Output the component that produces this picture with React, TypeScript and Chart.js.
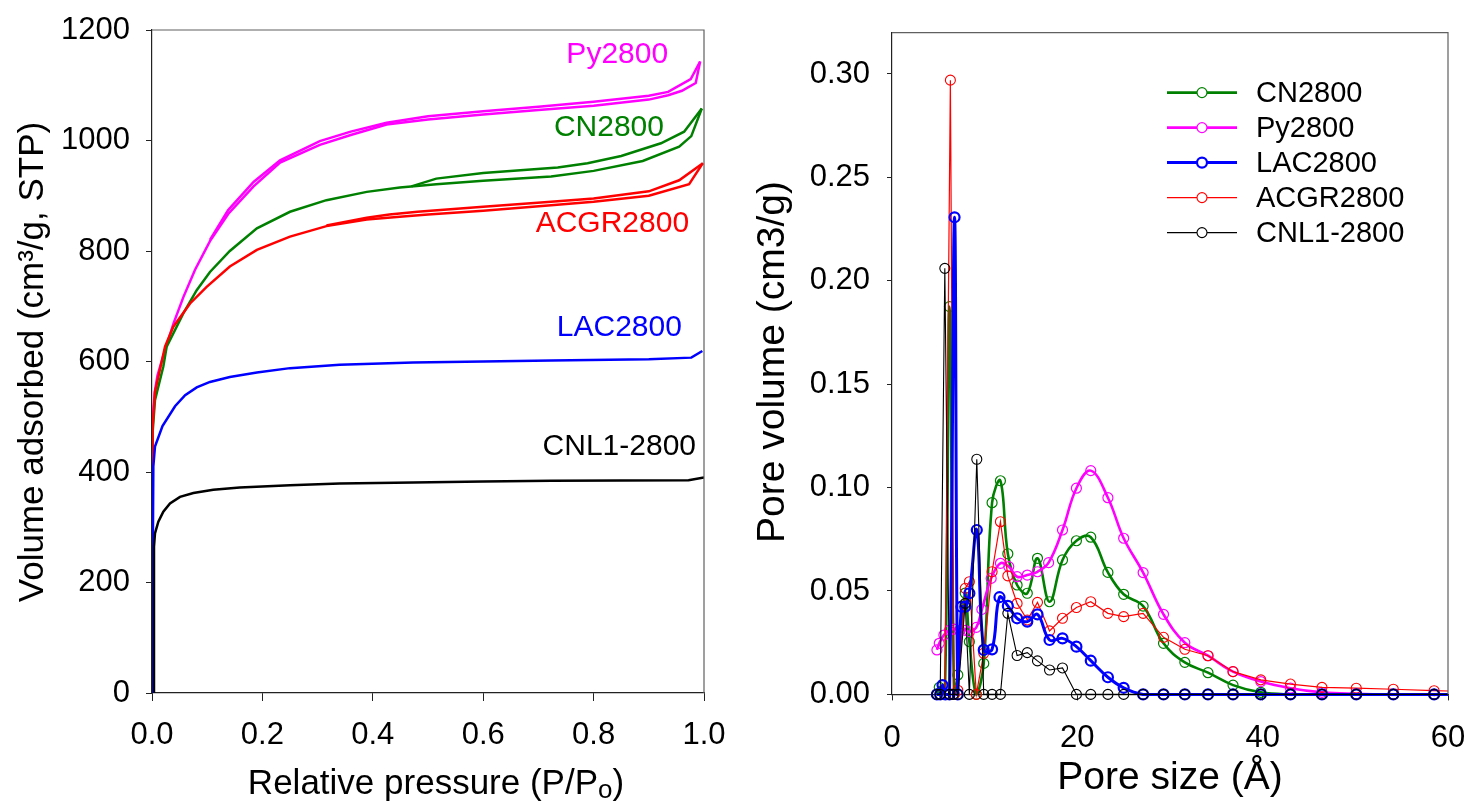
import React, { useEffect, useRef } from "react";
import { Chart, registerables } from "chart.js";

Chart.register(...registerables);

const FONT = '"Liberation Sans", Arial, Helvetica, sans-serif';

// ---------------- Left panel: N2 isotherms ----------------
const pyAdsP = [0, 0.001, 0.005, 0.01, 0.02, 0.039, 0.057, 0.078, 0.105, 0.138, 0.184, 0.232, 0.304, 0.36, 0.425, 0.5, 0.6, 0.7, 0.8, 0.9, 0.935, 0.96, 0.985, 0.993];
const pyAdsV = [0, 494, 545, 575, 609, 669, 717, 766, 818, 867, 917, 960, 992, 1010, 1029, 1038, 1047, 1055, 1063, 1074, 1082, 1090, 1104, 1143];
const pyDesP = [0.993, 0.976, 0.935, 0.9, 0.8, 0.7, 0.6, 0.5, 0.425, 0.36, 0.304, 0.232, 0.184, 0.138, 0.105];
const pyDesV = [1143, 1111, 1088, 1081, 1070, 1061, 1053, 1044, 1032, 1016, 999, 964, 925, 874, 820];

const cnAdsP = [0, 0.001, 0.0054, 0.0205, 0.0266, 0.0567, 0.081, 0.105, 0.141, 0.19, 0.25, 0.316, 0.389, 0.449, 0.515, 0.6, 0.723, 0.8, 0.889, 0.955, 0.977, 0.996];
const cnAdsV = [0, 470, 530, 591, 627, 687, 729, 762, 800, 841, 871, 892, 907, 915, 921, 927, 935, 945, 963, 989, 1008, 1058];
const cnDesP = [0.996, 0.964, 0.922, 0.85, 0.789, 0.735, 0.6, 0.515, 0.47];
const cnDesV = [1058, 1016, 995, 972, 959, 951, 941, 931, 917];

const acAdsP = [0, 0.001, 0.0054, 0.0236, 0.0386, 0.069, 0.099, 0.141, 0.19, 0.25, 0.316, 0.389, 0.449, 0.5, 0.6, 0.723, 0.8, 0.9, 0.973, 0.998];
const acAdsV = [0, 480, 545, 627, 663, 705, 735, 772, 802, 826, 845, 857, 862, 866, 873, 883, 889, 900, 921, 959];
const acDesP = [0.998, 0.955, 0.9, 0.8, 0.723, 0.6, 0.481, 0.43, 0.389, 0.316];
const acDesV = [959, 928, 908, 895, 889, 880, 871, 866, 860, 846];

const lacP = [0, 0.0024, 0.0054, 0.019, 0.0417, 0.06, 0.081, 0.105, 0.141, 0.19, 0.25, 0.34, 0.473, 0.6, 0.723, 0.9, 0.977, 0.997];
const lacV = [0, 410, 446, 483, 519, 539, 553, 563, 572, 580, 588, 594, 598, 600, 602, 604, 607, 619];

const cnlP = [0.0036, 0.0036, 0.0054, 0.0115, 0.0205, 0.0326, 0.0507, 0.075, 0.111, 0.159, 0.25, 0.34, 0.473, 0.6, 0.723, 0.85, 0.972, 1.0];
const cnlV = [0, 265, 289, 310, 328, 343, 355, 362, 368, 372, 376, 379, 381, 383, 384, 384.5, 385, 390];

// curve labels (anchored at data coordinates, right-aligned)
const isoLabelText = ["Py2800", "CN2800", "ACGR2800", "LAC2800", "CNL1-2800"];
const isoLabelP = [0.935, 0.9275, 0.973, 0.96, 0.9855];
const isoLabelV = [1155, 1024, 849, 662, 445];
const isoLabelColor = ["#FF00FF", "#008000", "#FF0000", "#0000FF", "#000000"];

const leftXTicks = [0, 0.2, 0.4, 0.6, 0.8, 1.0];
const leftYTicks = [0, 200, 400, 600, 800, 1000, 1200];

// ---------------- Right panel: pore size distributions ----------------
const cnSize = [4.85, 5.1, 5.7, 6.2, 6.7, 7.1, 7.9, 8.35, 9.1, 9.9, 10.8, 11.7, 12.5, 13.5, 14.6, 15.7, 17.0, 18.4, 19.9, 21.45, 23.3, 25.0, 27.1, 29.3, 31.6, 34.1, 36.8, 39.8, 43.0, 46.4, 50.1, 54.1, 58.5, 63.2];
const cnVol = [0, 0.0034, 0, 0.1875, 0, 0.0094, 0.049, 0.0255, 0, 0.015, 0.0927, 0.1033, 0.068, 0.0529, 0.0489, 0.0658, 0.0448, 0.065, 0.0743, 0.076, 0.059, 0.0484, 0.0427, 0.0247, 0.0155, 0.0105, 0.0045, 0.001, 0, 0, 0, 0, 0, 0];

const pySize = [4.85, 5.1, 5.6, 6.2, 6.7, 7.3, 7.9, 8.35, 9.1, 9.7, 10.7, 11.7, 12.6, 13.5, 14.6, 15.7, 16.9, 18.4, 19.9, 21.45, 23.3, 25.0, 27.1, 29.3, 31.6, 34.1, 36.8, 39.8, 43.0, 46.4, 50.1, 54.1, 58.5, 63.2];
const pyVol = [0.0215, 0.0247, 0.0287, 0.031, 0.0316, 0.031, 0.031, 0.0303, 0.0324, 0.0411, 0.0561, 0.0634, 0.0618, 0.0569, 0.0577, 0.0593, 0.0637, 0.0795, 0.0997, 0.1082, 0.0951, 0.0755, 0.0589, 0.0387, 0.025, 0.0187, 0.011, 0.0062, 0.003, 0.001, 0.0003, 0, 0, 0];

const lacSize = [4.85, 5.2, 5.45, 5.75, 6.2, 6.75, 7.1, 7.5, 7.9, 8.35, 9.15, 9.9, 10.8, 11.6, 12.5, 13.5, 14.6, 15.7, 17.0, 18.4, 19.9, 21.45, 23.3, 25.0, 27.1, 29.3, 31.6, 34.1, 36.8, 39.8, 43.0, 46.4, 50.1, 54.1, 58.5, 63.2];
const lacVol = [0, 0, 0.0045, 0, 0, 0.2307, 0, 0.0424, 0.0424, 0.0489, 0.0795, 0.0215, 0.0218, 0.047, 0.0428, 0.0368, 0.0352, 0.0387, 0.0263, 0.0271, 0.0231, 0.0163, 0.0083, 0.0032, 0, 0, 0, 0, 0, 0, 0, 0, 0, 0, 0, 0];

const acSize = [4.85, 5.2, 5.7, 6.3, 6.7, 7.1, 7.9, 8.35, 9.1, 9.9, 10.8, 11.7, 12.5, 13.5, 14.6, 15.7, 17.0, 18.4, 19.9, 21.45, 23.3, 25.0, 27.1, 29.3, 31.6, 34.1, 36.8, 39.8, 43.0, 46.4, 50.1, 54.1, 58.5, 63.2];
const acVol = [0, 0, 0, 0.297, 0, 0.002, 0.0513, 0.0545, 0, 0.0199, 0.0593, 0.0835, 0.0573, 0.044, 0.036, 0.0445, 0.0307, 0.0368, 0.042, 0.0448, 0.0392, 0.0376, 0.0392, 0.0276, 0.0218, 0.0187, 0.011, 0.007, 0.005, 0.0034, 0.003, 0.0025, 0.0018, 0.0013];

const cnlSize = [4.85, 5.2, 5.7, 6.2, 6.6, 7.1, 7.9, 8.35, 9.15, 9.9, 10.8, 11.7, 12.5, 13.5, 14.6, 15.7, 17.0, 18.4, 19.9, 21.45, 23.3, 25.0, 27.1, 29.3, 31.6, 34.1, 36.8, 39.8, 43.0, 46.4, 50.1, 54.1, 58.5, 63.2];
const cnlVol = [0, 0, 0.206, 0, 0, 0, 0.044, 0, 0.1137, 0, 0, 0, 0.0392, 0.0188, 0.0202, 0.0162, 0.0118, 0.0128, 0, 0, 0, 0, 0, 0, 0, 0, 0, 0, 0, 0, 0, 0, 0, 0];

const psdNames = ["CN2800", "Py2800", "LAC2800", "ACGR2800", "CNL1-2800"];
const rightXTicks = [0, 20, 40, 60];
const rightYTicks = [0, 0.05, 0.1, 0.15, 0.2, 0.25, 0.3];

const toXY = (xs: number[], ys: number[]) => xs.map((x, i) => ({ x, y: ys[i] }));

const W = 1467;
const H = 803;
const LEFT_W = 740;
const RIGHT_W = W - LEFT_W;

function rotatedText(ctx: CanvasRenderingContext2D, text: string, x: number, y: number, font: string) {
  ctx.save();
  ctx.translate(x, y);
  ctx.rotate(-Math.PI / 2);
  ctx.font = font;
  ctx.fillStyle = "#000";
  ctx.textAlign = "center";
  ctx.textBaseline = "middle";
  ctx.fillText(text, 0, 0);
  ctx.restore();
}

function frame(ctx: CanvasRenderingContext2D, a: any) {
  ctx.save();
  ctx.strokeStyle = "#606060";
  ctx.lineWidth = 1.2;
  ctx.beginPath();
  ctx.moveTo(a.left, a.top);
  ctx.lineTo(a.right, a.top);
  ctx.lineTo(a.right, a.bottom);
  ctx.stroke();
  ctx.restore();
}

const leftPlugin = {
  id: "leftDecor",
  afterDraw(chart: any) {
    const ctx = chart.ctx as CanvasRenderingContext2D;
    const a = chart.chartArea;
    frame(ctx, a);
    const xs = chart.scales.x;
    const ys = chart.scales.y;
    ctx.save();
    ctx.font = `30px ${FONT}`;
    ctx.textAlign = "right";
    ctx.textBaseline = "middle";
    isoLabelText.forEach((t, i) => {
      ctx.fillStyle = isoLabelColor[i];
      ctx.fillText(t, xs.getPixelForValue(isoLabelP[i]), ys.getPixelForValue(isoLabelV[i]));
    });
    ctx.restore();
    rotatedText(ctx, "Volume adsorbed (cm³/g, STP)", 33, 362, `35px ${FONT}`);
    // x title with subscript
    ctx.save();
    ctx.fillStyle = "#000";
    ctx.textBaseline = "alphabetic";
    ctx.textAlign = "left";
    const mainFont = `35px ${FONT}`;
    const subFont = `26px ${FONT}`;
    const p1 = "Relative pressure (P/P";
    const p2 = "o";
    const p3 = ")";
    ctx.font = mainFont;
    const w1 = ctx.measureText(p1).width;
    const w3 = ctx.measureText(p3).width;
    ctx.font = subFont;
    const w2 = ctx.measureText(p2).width;
    const total = w1 + w2 + w3;
    let x = 436 - total / 2;
    const base = 794;
    ctx.font = mainFont;
    ctx.fillText(p1, x, base);
    x += w1;
    ctx.font = subFont;
    ctx.fillText(p2, x, base + 4);
    x += w2;
    ctx.font = mainFont;
    ctx.fillText(p3, x, base);
    ctx.restore();
  },
};

const rightPlugin = {
  id: "rightDecor",
  afterDraw(chart: any) {
    const ctx = chart.ctx as CanvasRenderingContext2D;
    const a = chart.chartArea;
    frame(ctx, a);
    // legend
    ctx.save();
    const ds = chart.data.datasets;
    psdNames.forEach((name, i) => {
      const d = ds.find((q: any) => q.label === name);
      const y = a.top + 60 + i * 35;
      const x0 = a.left + 275;
      const x1 = a.left + 345;
      ctx.strokeStyle = d.borderColor;
      ctx.lineWidth = d.borderWidth;
      ctx.beginPath();
      ctx.moveTo(x0, y);
      ctx.lineTo(x1, y);
      ctx.stroke();
      ctx.lineWidth = d.pointBorderWidth;
      ctx.strokeStyle = d.pointBorderColor;
      ctx.fillStyle = "#fff";
      ctx.beginPath();
      ctx.arc((x0 + x1) / 2, y, 5, 0, Math.PI * 2);
      ctx.fill();
      ctx.stroke();
      ctx.fillStyle = "#000";
      ctx.font = `29px ${FONT}`;
      ctx.textAlign = "left";
      ctx.textBaseline = "middle";
      ctx.fillText(name, a.left + 364, y + 1);
    });
    ctx.restore();
    rotatedText(ctx, "Pore volume (cm3/g)", 33, 362, `39px ${FONT}`);
    ctx.save();
    ctx.font = `39px ${FONT}`;
    ctx.fillStyle = "#000";
    ctx.textAlign = "center";
    ctx.textBaseline = "middle";
    ctx.fillText("Pore size (Å)", (a.left + a.right) / 2, 778);
    ctx.restore();
  },
};

function axisCommon(extra: any) {
  return {
    type: "linear",
    grid: { display: true, drawOnChartArea: false, drawTicks: true, color: "#222", ...extra.grid },
    border: { display: true, color: "#222", width: 1.2 },
    ticks: { autoSkip: false, color: "#000", font: { family: FONT, size: 31 }, maxRotation: 0, ...extra.ticks },
    min: extra.min,
    max: extra.max,
    afterFit: extra.afterFit,
    afterBuildTicks: extra.afterBuildTicks,
  };
}

const fitX = (h: number) => (s: any) => {
  s.height = h;
  s.paddingLeft = 0;
  s.paddingRight = 0;
  s.paddingTop = 0;
  s.paddingBottom = 0;
};
const fitY = (w: number) => (s: any) => {
  s.width = w;
  s.paddingLeft = 0;
  s.paddingRight = 0;
  s.paddingTop = 0;
  s.paddingBottom = 0;
};

export default function App() {
  const leftRef = useRef<HTMLCanvasElement>(null);
  const rightRef = useRef<HTMLCanvasElement>(null);

  useEffect(() => {
    const isoLine = (xs: number[], ys: number[], color: string) => ({
      data: toXY(xs, ys),
      borderColor: color,
      backgroundColor: color,
      borderWidth: 2.5,
      pointRadius: 0,
      showLine: true,
      tension: 0,
      fill: false,
    });

    const left = new Chart(leftRef.current!, {
      type: "scatter",
      data: {
        datasets: [
          isoLine(cnlP, cnlV, "#000000"),
          isoLine(lacP, lacV, "#0000FF"),
          isoLine(acAdsP, acAdsV, "#FF0000"),
          isoLine(acDesP, acDesV, "#FF0000"),
          isoLine(cnAdsP, cnAdsV, "#008000"),
          isoLine(cnDesP, cnDesV, "#008000"),
          isoLine(pyAdsP, pyAdsV, "#FF00FF"),
          isoLine(pyDesP, pyDesV, "#FF00FF"),
        ] as any,
      },
      options: {
        animation: false,
        responsive: false,
        layout: { padding: { top: 30, right: LEFT_W - 704, left: 0, bottom: 0 } },
        plugins: { legend: { display: false }, tooltip: { enabled: false } },
        scales: {
          x: axisCommon({
            min: 0,
            max: 1,
            grid: { tickLength: 8 },
            ticks: { padding: 16, callback: (v: any) => Number(v).toFixed(1) },
            afterFit: fitX(H - 693),
            afterBuildTicks: (s: any) => { s.ticks = leftXTicks.map((value) => ({ value })); },
          }),
          y: axisCommon({
            min: 0,
            max: 1200,
            grid: { tickLength: 6 },
            ticks: { padding: 16, callback: (v: any) => String(v) },
            afterFit: fitY(152),
            afterBuildTicks: (s: any) => { s.ticks = leftYTicks.map((value) => ({ value })); },
          }),
        } as any,
      },
      plugins: [leftPlugin],
    });

    const psd = (label: string, xs: number[], ys: number[], color: string, lw: number, pw: number, tension: number, order: number) => ({
      label,
      data: toXY(xs, ys),
      borderColor: color,
      backgroundColor: "rgba(0,0,0,0)",
      pointBorderColor: color,
      pointBackgroundColor: "rgba(0,0,0,0)",
      pointBorderWidth: pw,
      pointRadius: 5,
      pointStyle: "circle",
      borderWidth: lw,
      showLine: true,
      tension,
      fill: false,
      clip: { left: 20, top: 20, right: 0, bottom: 20 },
      order,
    });

    const right = new Chart(rightRef.current!, {
      type: "scatter",
      data: {
        datasets: [
          psd("CN2800", cnSize, cnVol, "#008000", 2.6, 1.2, 0.4, 4),
          psd("Py2800", pySize, pyVol, "#FF00FF", 2.6, 1.2, 0.4, 3),
          psd("LAC2800", lacSize, lacVol, "#0000FF", 3, 2.2, 0.4, 1),
          psd("ACGR2800", acSize, acVol, "#FF0000", 1.2, 1.1, 0, 2),
          psd("CNL1-2800", cnlSize, cnlVol, "#000000", 1.1, 1.1, 0, 0),
        ] as any,
      },
      options: {
        animation: false,
        responsive: false,
        layout: { padding: { top: 32.6, right: RIGHT_W - 708, left: 0, bottom: 0 } },
        plugins: { legend: { display: false }, tooltip: { enabled: false } },
        scales: {
          x: axisCommon({
            min: 0,
            max: 60,
            grid: { tickLength: 6 },
            ticks: { padding: 19, callback: (v: any) => String(Math.round(Number(v))) },
            afterFit: fitX(H - 694.4),
            afterBuildTicks: (s: any) => { s.ticks = rightXTicks.map((value) => ({ value })); },
          }),
          y: axisCommon({
            min: 0,
            max: 0.32,
            grid: { tickLength: 5 },
            ticks: { padding: 17, callback: (v: any) => Number(v).toFixed(2) },
            afterFit: fitY(152),
            afterBuildTicks: (s: any) => { s.ticks = rightYTicks.map((value) => ({ value })); },
          }),
        } as any,
      },
      plugins: [rightPlugin],
    });

    return () => {
      left.destroy();
      right.destroy();
    };
  }, []);

  return (
    <div style={{ position: "absolute", left: 0, top: 0, width: W, height: H, background: "#fff", overflow: "hidden" }}>
      <canvas ref={leftRef} width={LEFT_W} height={H} style={{ position: "absolute", left: 0, top: 0, width: LEFT_W, height: H }} />
      <canvas ref={rightRef} width={RIGHT_W} height={H} style={{ position: "absolute", left: LEFT_W, top: 0, width: RIGHT_W, height: H }} />
    </div>
  );
}
